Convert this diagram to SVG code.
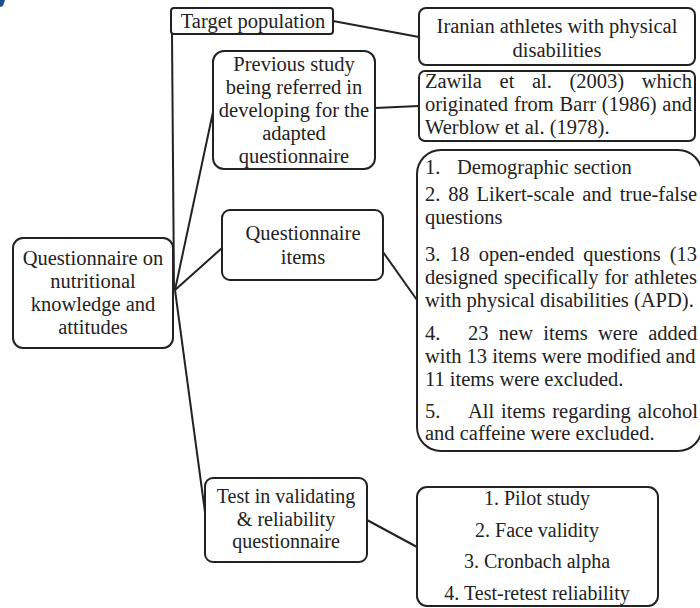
<svg xmlns="http://www.w3.org/2000/svg" width="700" height="608" viewBox="0 0 700 608">
<style>
.box{fill:#fff;stroke:#222;stroke-width:2}
.t{font-family:"Liberation Serif","Times New Roman",serif;font-size:20.5px;fill:#222}
.s{font-size:20px}
.c{text-anchor:middle}
.ln{stroke:#222;stroke-width:2;fill:none}
</style>
<rect width="700" height="608" fill="#fff"/>
<path d="M0 0 L5 0 L3 6 L0 7 Z" fill="#1f4e8c"/>
<g id="connectors">
<line class="ln" x1="333" y1="21" x2="419" y2="37"/>
<line class="ln" x1="172" y1="34" x2="174" y2="290"/>
<line class="ln" x1="175" y1="290" x2="213" y2="112"/>
<line class="ln" x1="175" y1="290" x2="222" y2="248"/>
<line class="ln" x1="175" y1="290" x2="205" y2="512"/>
<line class="ln" x1="375" y1="108" x2="419" y2="106"/>
<line class="ln" x1="383" y1="252" x2="417" y2="300"/>
<line class="ln" x1="367" y1="520" x2="417" y2="547"/>
</g>
<g id="target">
<rect class="box" x="171" y="8" width="162" height="26" rx="3"/>
<text class="t c" x="253" y="28">Target population</text>
</g>
<g id="iranian">
<rect class="box" x="419" y="8" width="276" height="57" rx="7"/>
<text class="t c" x="557" y="33">Iranian athletes with physical</text>
<text class="t c" x="557" y="57">disabilities</text>
</g>
<g id="previous">
<rect class="box" x="213" y="51" width="162" height="118" rx="11"/>
<text class="t c" x="294" y="71">Previous study</text>
<text class="t c" x="294" y="94">being referred in</text>
<text class="t c" x="294" y="117">developing for the</text>
<text class="t c" x="294" y="140">adapted</text>
<text class="t c" x="294" y="163">questionnaire</text>
</g>
<g id="zawila">
<rect class="box" x="419" y="71" width="276" height="70" rx="6"/>
<text class="t" x="425" y="88" word-spacing="12.5">Zawila et al. (2003) which</text>
<text class="t" x="425" y="111" word-spacing="0.7">originated from Barr (1986) and</text>
<text class="t" x="425" y="134">Werblow et al. (1978).</text>
</g>
<g id="main">
<rect class="box" x="13" y="238" width="160" height="110" rx="10"/>
<text class="t c" x="93" y="265">Questionnaire on</text>
<text class="t c" x="93" y="288">nutritional</text>
<text class="t c" x="93" y="311">knowledge and</text>
<text class="t c" x="93" y="334">attitudes</text>
</g>
<g id="items">
<rect class="box" x="222" y="210" width="161" height="70" rx="8"/>
<text class="t c" x="303" y="240">Questionnaire</text>
<text class="t c" x="303" y="264">items</text>
</g>
<g id="itemlist">
<rect class="box" x="417" y="150" width="285" height="301" rx="24"/>
<text class="t" x="425" y="174">1.</text>
<text class="t" x="457" y="174">Demographic section</text>
<text class="t" x="425" y="201" word-spacing="2.7">2. 88 Likert-scale and true-false</text>
<text class="t" x="425" y="224">questions</text>
<text class="t" x="425" y="261" word-spacing="3.8">3. 18 open-ended questions (13</text>
<text class="t" x="425" y="284" word-spacing="0.9">designed specifically for athletes</text>
<text class="t" x="425" y="307">with physical disabilities (APD).</text>
<text class="t" x="425" y="340">4.</text>
<text class="t" x="468" y="340" word-spacing="5.2">23 new items were added</text>
<text class="t" x="425" y="363">with 13 items were modified and</text>
<text class="t" x="425" y="386">11 items were excluded.</text>
<text class="t" x="425" y="418">5.</text>
<text class="t" x="468" y="418" word-spacing="1.7">All items regarding alcohol</text>
<text class="t" x="425" y="440">and caffeine were excluded.</text>
</g>
<g id="test">
<rect class="box" x="205" y="478" width="162" height="84" rx="8"/>
<text class="t s c" x="286" y="503">Test in validating</text>
<text class="t s c" x="286" y="526">&amp; reliability</text>
<text class="t s c" x="286" y="548">questionnaire</text>
</g>
<g id="testlist">
<rect class="box" x="417" y="487" width="241" height="119" rx="10"/>
<text class="t s c" x="537" y="505">1. Pilot study</text>
<text class="t s c" x="537" y="537">2. Face validity</text>
<text class="t s c" x="537" y="568">3. Cronbach alpha</text>
<text class="t s c" x="537" y="600">4. Test-retest reliability</text>
</g>
</svg>
